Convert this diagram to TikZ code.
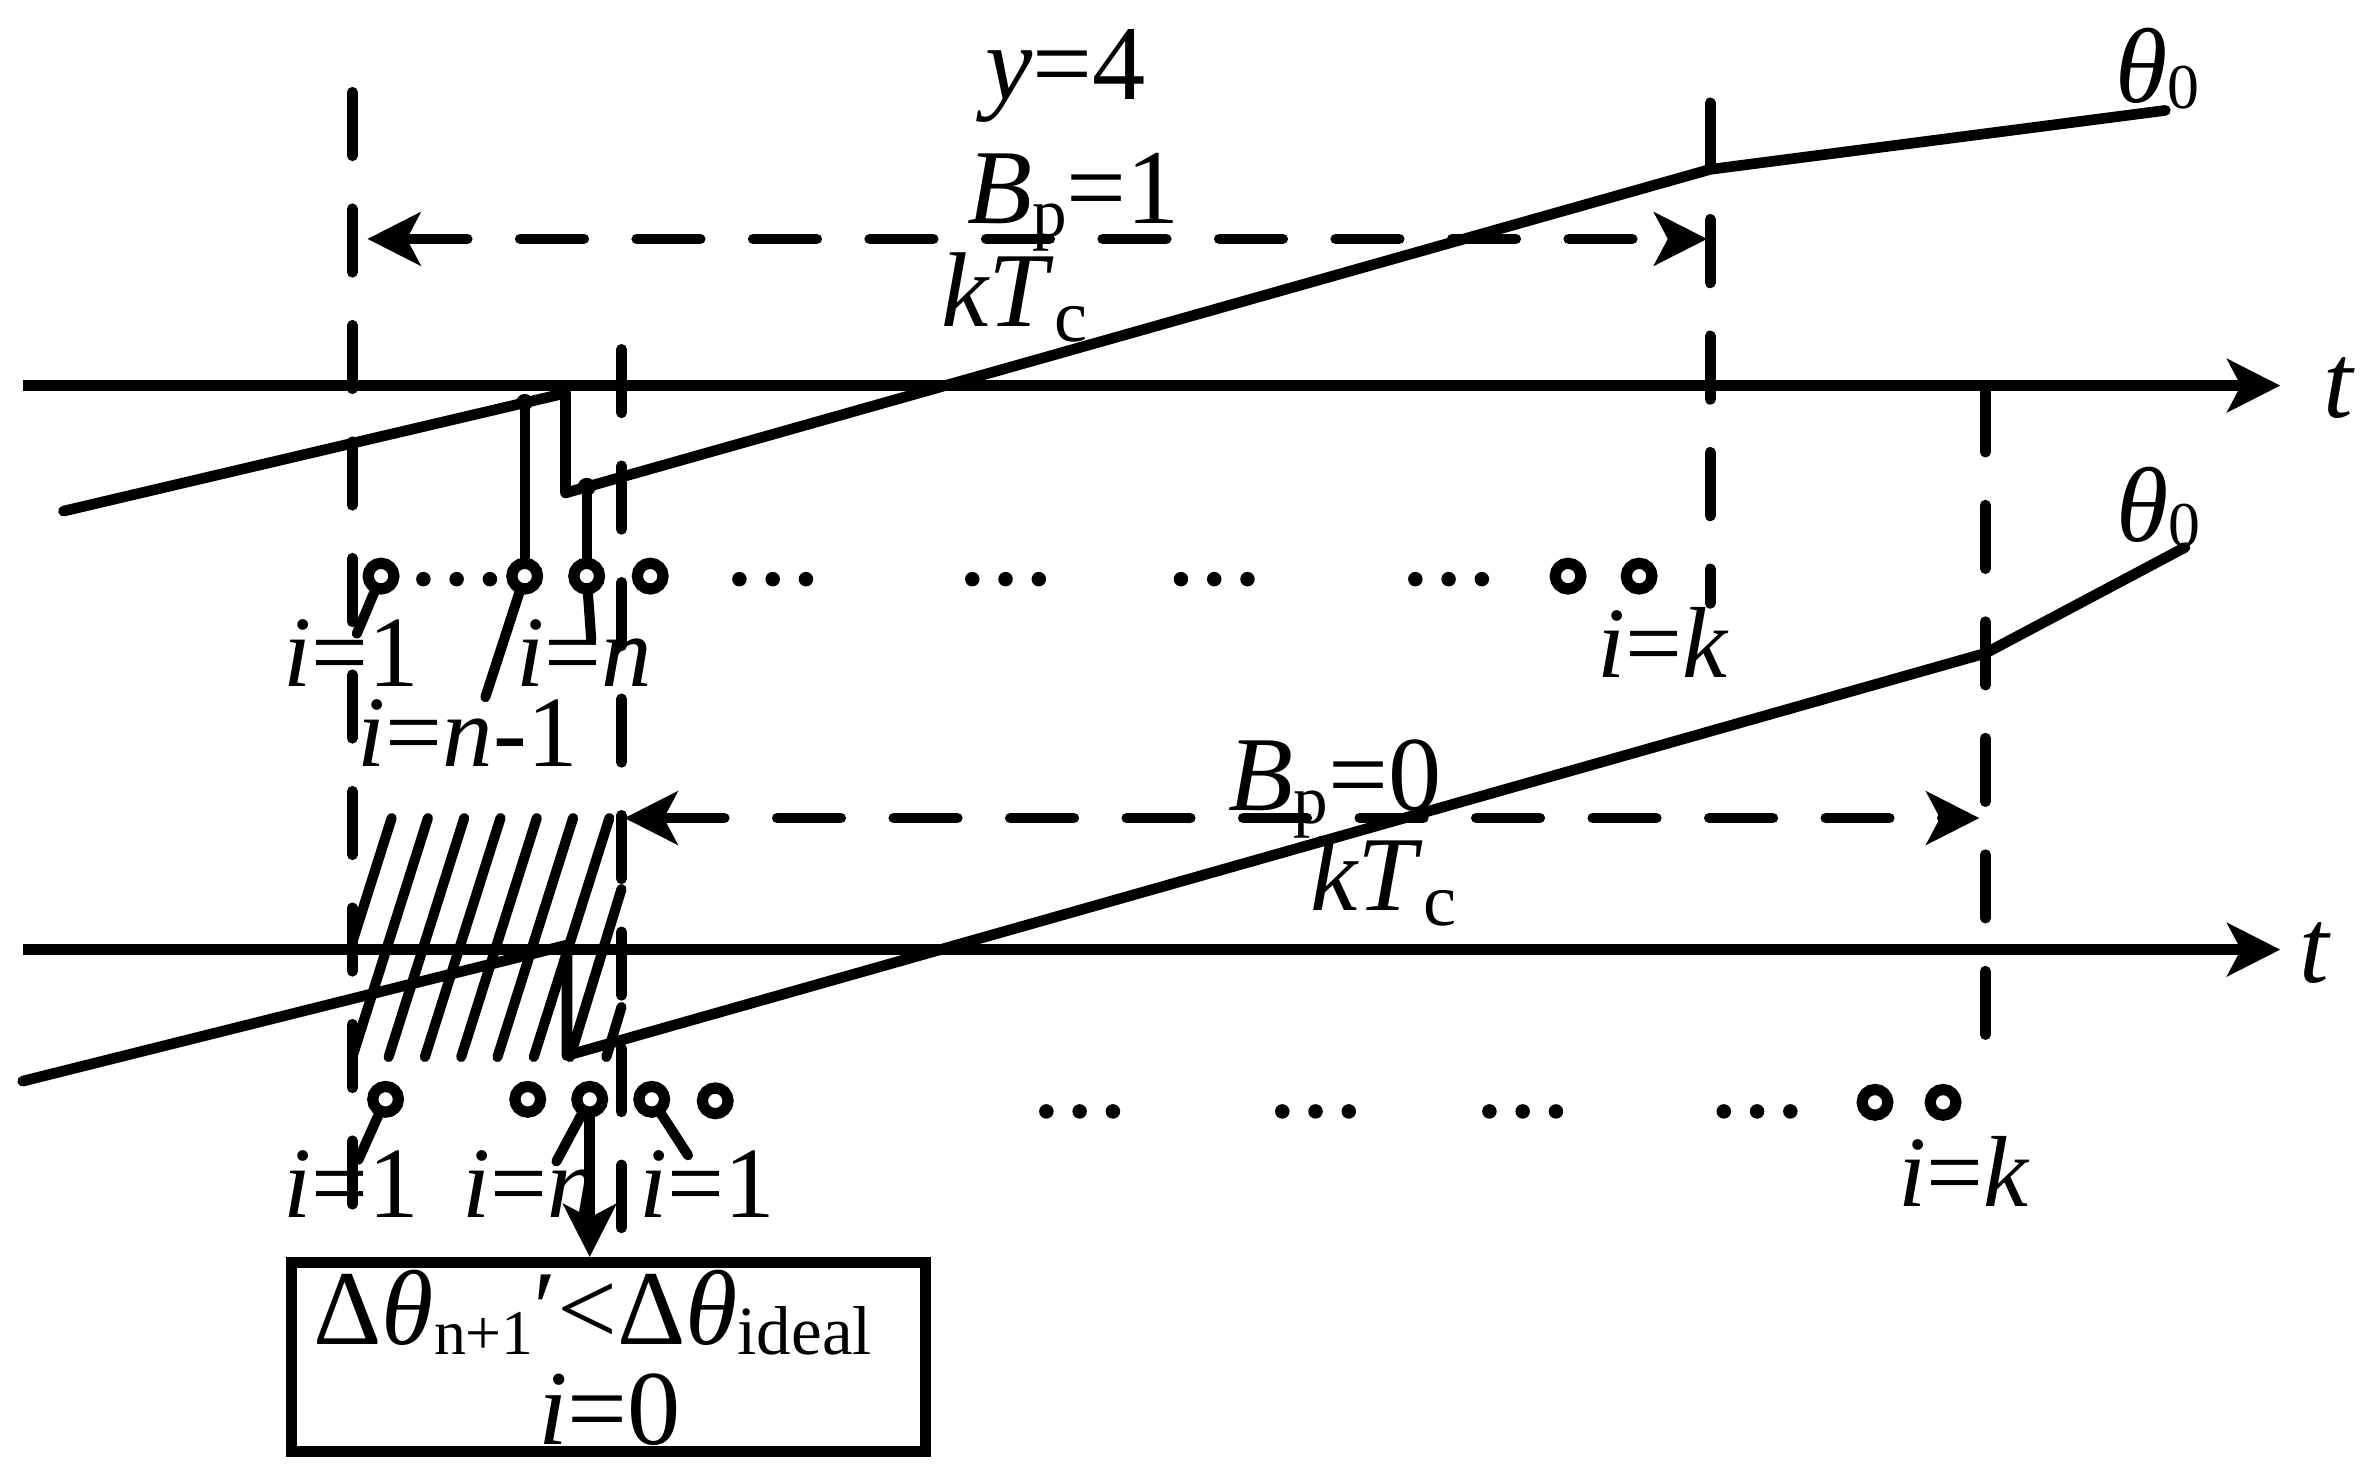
\documentclass[tikz,border=0pt]{standalone}
\usepackage{fontspec}
\setmainfont{Liberation Serif}
\usetikzlibrary{arrows.meta}
\newcommand\fsz[1]{\fontsize{#1}{#1}\selectfont}
\newcommand\sbs[3]{\raisebox{#2}{\fontsize{#1}{#1}\selectfont #3}}
\tikzset{
  tip/.tip={Stealth[length=0.35cm,width=0.35cm,inset=0.09cm]},
  axisline/.style={line width=2.1pt,-tip},
  thetaline/.style={line width=2pt,line join=round,line cap=round},
  vdash/.style={line width=2pt,line cap=round,dash pattern=on 0.42cm off 0.35cm},
  harrow/.style={line width=2pt,line cap=round,dash pattern=on 0.42cm off 0.35cm,tip-tip},
  wire/.style={line width=1.9pt,line cap=round},
  hatch/.style={line width=1.9pt,line cap=round},
  ring/.style={line width=2.1pt,draw,fill=white},
  lbl/.style={inner sep=0pt,anchor=base west,font=\fsz{19}},
  big/.style={inner sep=0pt,anchor=base west,font=\fsz{20}}
}
\begin{document}
\begin{tikzpicture}[x=0.01cm,y=-0.01cm]
\useasboundingbox (0,0) rectangle (1568,975);
% ---------- axes ----------
\coordinate (a1s) at (15,255); \coordinate (a1e) at (1508,255);
\coordinate (a2s) at (15,628); \coordinate (a2e) at (1508,628);
\draw[axisline] (a1s) -- (a1e);
\draw[axisline] (a2s) -- (a2e);
\node[big] (t1) at (1536,276) {\textit{t}};
\node[big] (t2) at (1520,650) {\textit{t}};
% ---------- vertical dashed lines ----------
\coordinate (v1a) at (233,61);  \coordinate (v1b) at (233,797);
\coordinate (v2a) at (411,231); \coordinate (v2b) at (411,812);
\coordinate (v3a) at (1131,68); \coordinate (v3b) at (1131,399);
\coordinate (v4a) at (1313,257);\coordinate (v4b) at (1313,686);
\draw[vdash] (v1a) -- (v1b);
\draw[vdash] (v2a) -- (v2b);
\draw[vdash] (v3a) -- (v3b);
\draw[vdash] (v4a) -- (v4b);
% ---------- dashed interval arrows ----------
\coordinate (h1a) at (243,158); \coordinate (h1b) at (1129,158);
\coordinate (h2a) at (413,541); \coordinate (h2b) at (1309,541);
\draw[harrow] (h1a) -- (h1b);
\draw[harrow] (h2a) -- (h2b);
% ---------- top theta line ----------
\coordinate (p1) at (42,338);
\coordinate (d1) at (347,266);
\coordinate (p2) at (374,260);
\coordinate (p3) at (374,326);
\coordinate (d2) at (388,322);
\coordinate (p4) at (1131,112);
\coordinate (p5) at (1432,73);
\draw[thetaline] (p1) -- (p2) -- (p3) -- (d2) -- (p4) -- (p5);
\fill (d1) circle[radius=5.5];
\fill (d2) circle[radius=6];
% ---------- bottom theta line ----------
\coordinate (q1) at (15,715);
\coordinate (q2) at (375,625);
\coordinate (q3) at (375,698);
\coordinate (q4) at (1313,432);
\coordinate (q5) at (1445,362);
\draw[thetaline] (q1) -- (q2) -- (q3) -- (q4) -- (q5);
% ---------- hatching ----------
\draw[hatch] (259,541) -- (233,623);
\draw[hatch] (283,541) -- (233,699);
\draw[hatch] (307,541) -- (257,699);
\draw[hatch] (331,541) -- (281,699);
\draw[hatch] (355,541) -- (305,699);
\draw[hatch] (379,541) -- (329,699);
\draw[hatch] (403,541) -- (353,699);
\draw[hatch] (411,588) -- (377,699);
\draw[hatch] (411,666) -- (401,699);
% ---------- top switches ----------
\coordinate (c1) at (252,381);
\coordinate (c2) at (347,381);
\coordinate (c3) at (388,381);
\coordinate (c4) at (430,381);
\coordinate (c5) at (1037,381);
\coordinate (c6) at (1084,381);
\draw[wire] (d1) -- (c2);
\draw[wire] (d2) -- (c3);
\draw[wire] (c1) -- (236,419);
\draw[wire] (c2) -- (321,461);
\draw[wire] (c3) -- (391,423);
\foreach \c in {c1,c2,c3,c4,c5,c6} \draw[ring] (\c) circle[radius=8.5];
\foreach \x in {280,302,324, 489,511,533, 643,665,687, 781,803,825, 936,958,980}
  \fill (\x,383) circle[radius=4.8];
% ---------- bottom switches ----------
\coordinate (e1) at (255,727);
\coordinate (e2) at (349,727);
\coordinate (e3) at (390,727);
\coordinate (e4) at (431,727);
\coordinate (e5) at (473,728);
\coordinate (e6) at (1240,729);
\coordinate (e7) at (1285,729);
\draw[wire] (e1) -- (237,767);
\draw[wire] (e3) -- (368,768);
\draw[wire] (e4) -- (455,764);
% box
\node[draw,line width=2.1pt,minimum width=4.19cm,minimum height=1.25cm,inner sep=0pt]
  (box) at (402.5,897.5) {};
\draw[line width=2pt,-tip] (e3) -- (e3 |- box.north);
\foreach \c in {e1,e2,e3,e4,e5,e6,e7} \draw[ring] (\c) circle[radius=8.5];
\foreach \x in {692,714,736, 848,870,892, 985,1007,1029, 1140,1162,1184}
  \fill (\x,735) circle[radius=4.8];
% ---------- labels ----------
\node[big] (ly) at (651,66) {\textit{y}=4};
\node[big] (lb1) at (639,148) {\textit{B}\sbs{13}{-2.4pt}{p}=1};
\node[big] (lk1) at (622,216) {\textit{kT}\sbs{14}{-2.8pt}{c}};
\node[big] (lth1) at (1398,68) {\textit{θ}\sbs{12}{-1pt}{0}};
\node[big] (lth2) at (1399,358) {\textit{θ}\sbs{12}{-1pt}{0}};
\node[big] (lb2) at (812,536) {\textit{B}\sbs{13}{-2.4pt}{p}=0};
\node[big] (lk2) at (866,602) {\textit{kT}\sbs{14}{-2.8pt}{c}};
\node[lbl] (li1) at (187,454) {\textit{i}=1};
\node[lbl] (lin) at (341,454) {\textit{i}=\textit{n}};
\node[lbl] (linm) at (236,507) {\textit{i}=\textit{n}-1};
\node[lbl] (lik1) at (1056,448) {\textit{i}=\textit{k}};
\node[lbl] (lj1) at (187,805) {\textit{i}=1};
\node[lbl] (ljn) at (305,805) {\textit{i}=\textit{n}};
\node[lbl] (lj2) at (422,805) {\textit{i}=1};
\node[lbl] (lik2) at (1255,798) {\textit{i}=\textit{k}};
\node[inner sep=0pt,anchor=base,font=\fsz{20}] (bx1) at (392,889)
  {Δ\textit{θ}\sbs{12}{-2pt}{n+1}′<Δ\textit{θ}\sbs{13}{-2pt}{ideal}};
\node[inner sep=0pt,anchor=base,font=\fsz{20}] (bx2) at (403,955) {\textit{i}=0};
\end{tikzpicture}
\end{document}
